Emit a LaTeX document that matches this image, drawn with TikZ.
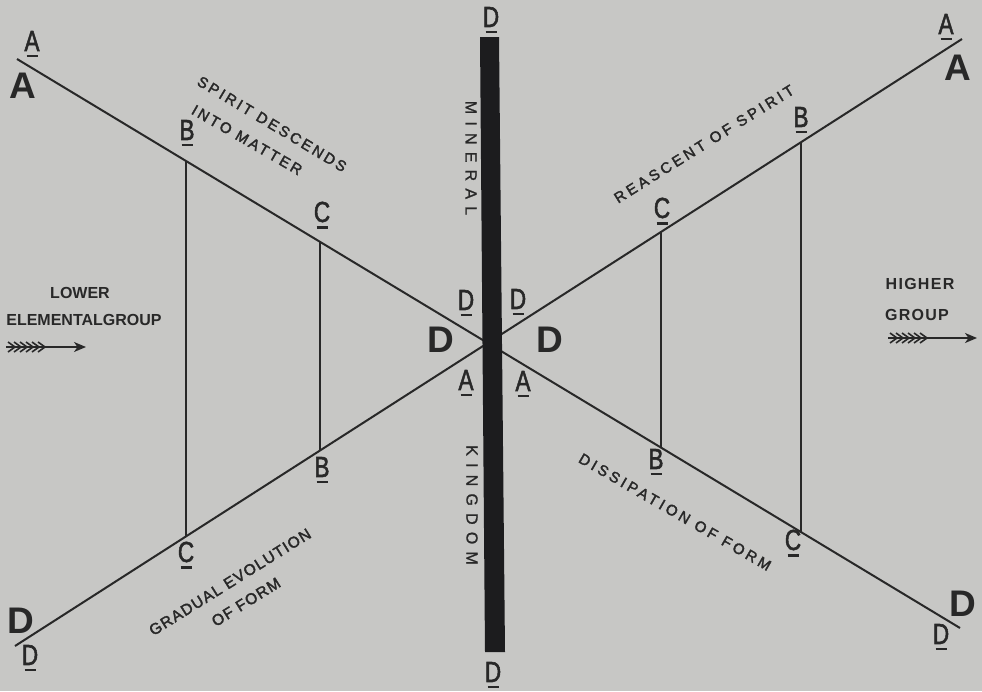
\documentclass[tikz,border=0pt]{standalone}
\usepackage{fontspec}
\setmainfont{Liberation Sans}
\newfontfamily\spacedfont[LetterSpace=18,FakeBold=2.2]{Liberation Sans}
\newfontfamily\loosefont[LetterSpace=22,FakeBold=2.2]{Liberation Sans}
\newfontfamily\tightfont[LetterSpace=8,FakeBold=2.2]{Liberation Sans}
\newfontfamily\widefont[LetterSpace=45,FakeBold=1]{Liberation Sans}
\newfontfamily\grpfont[LetterSpace=8]{Liberation Sans}
\newfontfamily\labfont[FakeBold=2]{Liberation Sans}
\usetikzlibrary{arrows.meta}
\definecolor{bg}{RGB}{199,199,197}
\definecolor{ink}{RGB}{40,40,40}
\definecolor{barc}{RGB}{28,28,30}
\tikzset{
  mainline/.style={draw=ink, line width=2pt},
  rung/.style={draw=ink, line width=1.6pt},
  biglab/.style={inner sep=0pt, text=ink, font=\fontsize{37}{37}\selectfont\bfseries},
  smalllab/.style={inner sep=0pt, text=ink, font=\labfont\fontsize{29}{29}\selectfont},
  uline/.style={draw=ink, line width=2.2pt},
  caption/.style={inner sep=0pt, text=ink, font=\spacedfont\fontsize{15}{17}\selectfont},
  lcaption/.style={inner sep=0pt, text=ink, font=\loosefont\fontsize{15}{17}\selectfont},
  tcaption/.style={inner sep=0pt, text=ink, font=\tightfont\fontsize{15.5}{17}\selectfont},
  vcaption/.style={inner sep=0pt, text=ink, rotate=-90, font=\widefont\fontsize{16}{18}\selectfont},
  grouplab/.style={inner sep=0pt, text=ink, font=\fontsize{16}{18}\selectfont\bfseries},
  grouplabr/.style={inner sep=0pt, text=ink, font=\grpfont\fontsize{16}{18}\selectfont\bfseries},
  shaft/.style={draw=ink, line width=1.5pt, -{Stealth[length=12pt,width=10pt,inset=3.5pt]}},
  feather/.style={draw=ink, line width=1.6pt},
}
\newcommand\ulab[4]{%
  \node[smalllab] (#1) at (#2,#3) {\scalebox{0.78}[1]{#4}};
  \draw[uline] ([yshift=-5pt,xshift=-5.5pt]#1.south) -- ([yshift=-5pt,xshift=5.5pt]#1.south);
}
\begin{document}
\begin{tikzpicture}[x=1pt,y=-1pt]
\useasboundingbox (0,0) rectangle (982,691);
\fill[bg] (0,0) rectangle (982,691);

% main crossing lines
\coordinate (endA1) at (17,59);
\coordinate (endD1) at (960,628);
\coordinate (endD2) at (15,646);
\coordinate (endA2) at (962,39);
\draw[mainline] (endA1) -- (endD1);
\draw[mainline] (endD2) -- (endA2);

% rungs
\coordinate (pBtl) at (186,161);
\coordinate (pCbl) at (186,536.4);
\coordinate (pCtl) at (320,241.8);
\coordinate (pBbl) at (320,450.5);
\coordinate (pCtr) at (661,231.9);
\coordinate (pBbr) at (661,447.6);
\coordinate (pBtr) at (801,142.2);
\coordinate (pCbr) at (801,532.1);
\draw[rung] (pBtl) -- (pCbl);
\draw[rung] (pCtl) -- (pBbl);
\draw[rung] (pCtr) -- (pBbr);
\draw[rung] (pBtr) -- (pCbr);

% vertical bar
\fill[barc] (480,37) -- (499,37) -- (505,652) -- (485,652) -- cycle;

% big letters
\node[biglab] (bigATL) at (23,86) {A};
\node[biglab] (bigATR) at (958,68) {A};
\node[biglab] (bigDBL) at (21,621) {D};
\node[biglab] (bigDBR) at (963,604) {D};
\node[biglab] (bigDCL) at (441,340) {D};
\node[biglab] (bigDCR) at (550,340) {D};

% small underlined letters
\ulab{aTL}{32}{41}{A}
\ulab{aTR}{946}{24}{A}
\ulab{dBL}{30}{655}{D}
\ulab{dBR}{941}{634}{D}
\ulab{dTop}{491}{17}{D}
\ulab{dBot}{493}{672}{D}
\ulab{dCL}{466}{300}{D}
\ulab{dCR}{518}{299}{D}
\ulab{aCL}{466}{380}{A}
\ulab{aCR}{523}{381}{A}
\ulab{bTL}{187}{130}{B}
\ulab{cTL}{322}{212}{C}
\ulab{bBL}{322}{467}{B}
\ulab{cBL}{186}{552}{C}
\ulab{cTR}{662}{208}{C}
\ulab{bTR}{801}{117}{B}
\ulab{bBR}{656}{459}{B}
\ulab{cBR}{793}{540}{C}

% captions
\node[caption, rotate=-31] (capSpirit) at (272,124) {SPIRIT DESCENDS};
\node[caption, rotate=-30] (capInto) at (247,140) {INTO MATTER};
\node[lcaption, rotate=32] (capReascent) at (704,144) {REASCENT OF SPIRIT};
\node[lcaption, rotate=-30] (capDiss) at (675,512) {DISSIPATION OF FORM};
\node[tcaption, rotate=32] (capGrad) at (230,582) {GRADUAL EVOLUTION};
\node[tcaption, rotate=32] (capOfForm) at (246,602) {OF FORM};
\node[vcaption] (capMineral) at (471,158) {MINERAL};
\node[vcaption] (capKingdom) at (472,505) {KINGDOM};

% group labels
\node[grouplab] (lower) at (80,293) {LOWER};
\node[grouplab] (elemental) at (84,320) {ELEMENTALGROUP};
\node[grouplabr] (higher) at (920,284) {HIGHER};
\node[grouplabr] (group) at (917,315) {GROUP};

% feathered arrows
\coordinate (lTail) at (6,347);
\coordinate (lTip) at (86,347);
\draw[shaft] (lTail) -- (lTip);
\foreach \i in {0,...,5}{
  \draw[feather] ([xshift=\i*6pt+9pt]lTail) -- ++(-7,-5);
  \draw[feather] ([xshift=\i*6pt+9pt]lTail) -- ++(-7,5);
}
\coordinate (rTail) at (888,338);
\coordinate (rTip) at (977,338);
\draw[shaft] (rTail) -- (rTip);
\foreach \i in {0,...,5}{
  \draw[feather] ([xshift=\i*6pt+9pt]rTail) -- ++(-7,-5);
  \draw[feather] ([xshift=\i*6pt+9pt]rTail) -- ++(-7,5);
}
\end{tikzpicture}
\end{document}
